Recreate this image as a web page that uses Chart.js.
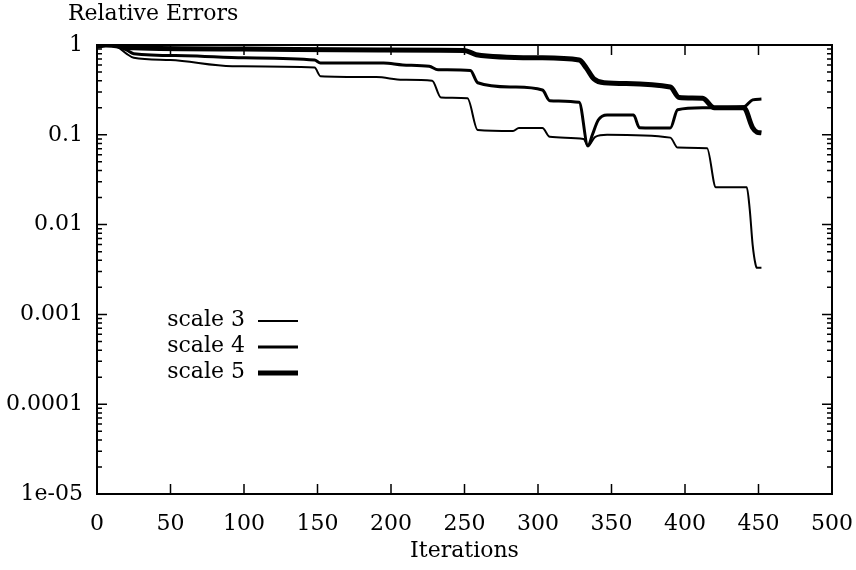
<!DOCTYPE html>
<html>
<head>
<meta charset="utf-8">
<script src="https://cdn.jsdelivr.net/npm/chart.js@4/dist/chart.umd.min.js"></script>
<style>
  html, body { margin: 0; padding: 0; background: #fff; }
  #wrap { width: 856px; height: 570px; }
</style>
</head>
<body>
<div id="wrap"><canvas id="errChart"></canvas></div>
<script>
// values (iteration, relative error)
const scale3Iter = [0, 6, 14, 20, 25, 50, 92, 148, 152, 190, 208, 228, 234, 252, 259, 283, 287, 303, 308, 331, 334, 339, 347, 390, 395, 415, 421, 442, 444, 446, 448, 449, 452];
const scale3Err  = [0.95, 1.0, 0.95, 0.8, 0.72, 0.68, 0.58, 0.56, 0.45, 0.44, 0.41, 0.4, 0.26, 0.255, 0.113, 0.11, 0.119, 0.119, 0.095, 0.09, 0.075, 0.095, 0.1, 0.093, 0.072, 0.071, 0.026, 0.026, 0.015, 0.006, 0.0036, 0.0033, 0.0033];

const scale4Iter = [0, 6, 14, 20, 25, 60, 100, 148, 152, 195, 208, 226, 232, 254, 259, 283, 303, 308, 328, 334, 337, 341, 347, 365, 369, 390, 395, 412, 440, 446, 452];
const scale4Err  = [0.95, 1.0, 0.96, 0.88, 0.8, 0.76, 0.72, 0.68, 0.63, 0.63, 0.6, 0.58, 0.53, 0.52, 0.38, 0.34, 0.315, 0.24, 0.23, 0.075, 0.1, 0.146, 0.166, 0.166, 0.12, 0.119, 0.19, 0.2, 0.205, 0.245, 0.25];

const scale5Iter = [0, 6, 25, 100, 192, 250, 258, 300, 328, 333, 338, 345, 390, 396, 412, 420, 440, 446, 449, 452];
const scale5Err  = [0.97, 1.0, 0.93, 0.9, 0.88, 0.87, 0.78, 0.72, 0.68, 0.55, 0.42, 0.38, 0.34, 0.26, 0.255, 0.2, 0.2, 0.12, 0.107, 0.105];

const seriesLabels = ['scale 3', 'scale 4', 'scale 5'];
const xTicks = [0, 50, 100, 150, 200, 250, 300, 350, 400, 450, 500];
const yTicks = [1e-5, 1e-4, 1e-3, 1e-2, 0.1, 1];
const yTickLabels = ['1e-05', '0.0001', '0.001', '0.01', '0.1', '1'];

const toPoints = (xs, ys) => xs.map((v, i) => ({ x: v, y: ys[i] }));

Chart.defaults.font.family = '"DejaVu Serif", serif';
Chart.defaults.font.size = 22;
Chart.defaults.color = '#000';

// inward ticks, frame, title and legend, gnuplot style
const framePlugin = {
    id: 'framePlugin',
    afterDatasetsDraw(chart) {
        const { ctx, chartArea: a, scales: { x, y } } = chart;
        ctx.save();
        ctx.strokeStyle = '#000';
        ctx.lineWidth = 1.5;
        ctx.beginPath();
        yTicks.forEach(d => {
            for (let m = 1; m <= 9; m++) {
                const v = d * m;
                if (v > 1.0001) break;
                const py = y.getPixelForValue(v);
                const len = m === 1 ? 10 : 5;
                ctx.moveTo(a.left, py); ctx.lineTo(a.left + len, py);
                ctx.moveTo(a.right, py); ctx.lineTo(a.right - len, py);
            }
        });
        xTicks.forEach(v => {
            const px = x.getPixelForValue(v);
            ctx.moveTo(px, a.bottom); ctx.lineTo(px, a.bottom - 10);
            ctx.moveTo(px, a.top); ctx.lineTo(px, a.top + 10);
        });
        ctx.stroke();
        ctx.lineWidth = 2;
        ctx.strokeRect(a.left, a.top, a.right - a.left, a.bottom - a.top);

        // title
        ctx.fillStyle = '#000';
        ctx.font = '22px "DejaVu Serif", serif';
        ctx.textAlign = 'left';
        ctx.textBaseline = 'middle';
        ctx.fillText('Relative Errors', 68, 14);

        // legend
        ctx.textAlign = 'right';
        chart.data.datasets.forEach((ds, i) => {
            const ly = 320 + i * 26;
            ctx.fillText(ds.label, 245, ly);
            ctx.lineWidth = ds.borderWidth;
            ctx.beginPath();
            ctx.moveTo(258, ly + 1);
            ctx.lineTo(298, ly + 1);
            ctx.stroke();
        });
        ctx.restore();
    }
};

new Chart(document.getElementById('errChart'), {
    type: 'line',
    data: {
        datasets: [{
            label: seriesLabels[0],
            data: toPoints(scale3Iter, scale3Err),
            borderColor: '#000',
            borderWidth: 2,
            pointRadius: 0,
            cubicInterpolationMode: 'monotone'
        }, {
            label: seriesLabels[1],
            data: toPoints(scale4Iter, scale4Err),
            borderColor: '#000',
            borderWidth: 3,
            pointRadius: 0,
            cubicInterpolationMode: 'monotone'
        }, {
            label: seriesLabels[2],
            data: toPoints(scale5Iter, scale5Err),
            borderColor: '#000',
            borderWidth: 5,
            pointRadius: 0,
            cubicInterpolationMode: 'monotone'
        }]
    },
    options: {
        responsive: true,
        maintainAspectRatio: false,
        animation: false,
        layout: { padding: { top: 45, right: 24, left: 0, bottom: 0 } },
        plugins: {
            legend: { display: false },
            tooltip: { enabled: false }
        },
        scales: {
            x: {
                type: 'linear',
                min: 0,
                max: 500,
                afterBuildTicks: axis => { axis.ticks = xTicks.map(v => ({ value: v })); },
                afterFit: axis => {
                    axis.height = 76;
                    axis.paddingLeft = 0;
                    axis.paddingRight = 0;
                },
                grid: { display: false, drawTicks: false },
                border: { display: false },
                ticks: { padding: 17, maxRotation: 0 },
                title: {
                    display: true,
                    text: 'Iterations',
                    padding: { top: 0, bottom: 6 }
                }
            },
            y: {
                type: 'logarithmic',
                min: 1e-5,
                max: 1,
                afterBuildTicks: axis => { axis.ticks = yTicks.map(v => ({ value: v })); },
                afterFit: axis => {
                    axis.width = 97;
                    axis.paddingTop = 0;
                    axis.paddingBottom = 0;
                },
                grid: { display: false, drawTicks: false },
                border: { display: false },
                ticks: {
                    padding: 14,
                    callback: value => yTickLabels[yTicks.indexOf(value)]
                }
            }
        }
    },
    plugins: [framePlugin]
});
</script>
</body>
</html>
